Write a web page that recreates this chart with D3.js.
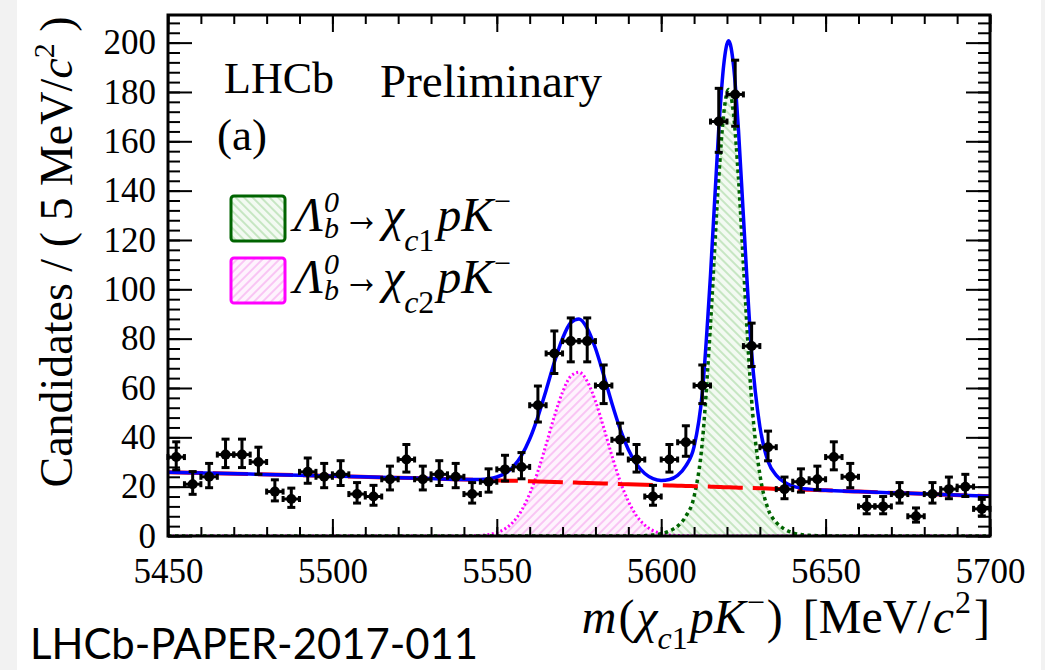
<!DOCTYPE html>
<html>
<head>
<meta charset="utf-8">
<script src="https://cdn.jsdelivr.net/npm/d3@7"></script>
<style>
  body { margin: 0; background: #fff; }
  svg { display: block; }
</style>
</head>
<body>
<svg id="chart" width="1045" height="670"></svg>
<script>
// Λb0 → χc pK− candidates per 5 MeV/c² bin
const massCentres = [
  5452.5, 5457.5, 5462.5, 5467.5, 5472.5, 5477.5, 5482.5, 5487.5, 5492.5, 5497.5,
  5502.5, 5507.5, 5512.5, 5517.5, 5522.5, 5527.5, 5532.5, 5537.5, 5542.5, 5547.5,
  5552.5, 5557.5, 5562.5, 5567.5, 5572.5, 5577.5, 5582.5, 5587.5, 5592.5, 5597.5,
  5602.5, 5607.5, 5612.5, 5617.5, 5622.5, 5627.5, 5632.5, 5637.5, 5642.5, 5647.5,
  5652.5, 5657.5, 5662.5, 5667.5, 5672.5, 5677.5, 5682.5, 5687.5, 5692.5, 5697.5
];
const candidates = [
  32, 21, 24, 33, 33, 30, 18, 15, 26, 24,
  25, 17, 16, 23, 31, 23, 25, 24, 17, 22,
  27, 28, 53, 74, 79, 79, 61, 39, 31, 16,
  31, 38, 61, 168, 179, 77, 36, 19, 22, 23,
  32, 24, 12, 12, 17, 8, 17, 19, 20, 11
];

// Fit components sampled along the mass axis
const fitMass = [
  5450, 5475, 5500, 5520, 5530, 5540, 5542.5, 5545, 5547.5, 5550,
  5552.5, 5555, 5557.5, 5560, 5562.5, 5565, 5567.5, 5570, 5572.5, 5575,
  5577.5, 5580, 5582.5, 5585, 5587.5, 5590, 5592.5, 5595, 5597.5, 5600,
  5602.5, 5605, 5607.5, 5610, 5612.5, 5615, 5617.5, 5619, 5620.5, 5622,
  5623.5, 5625, 5627.5, 5630, 5632.5, 5635, 5637.5, 5640, 5642.5, 5645,
  5647.5, 5650, 5660, 5675, 5700
];
const fitBackground = [
  25.8, 25.1, 24.3, 23.6, 23.3, 22.9, 22.8, 22.7, 22.6, 22.5,
  22.4, 22.4, 22.3, 22.2, 22.1, 22.0, 21.9, 21.8, 21.7, 21.6,
  21.5, 21.4, 21.3, 21.2, 21.1, 21.0, 20.9, 20.8, 20.7, 20.6,
  20.5, 20.4, 20.3, 20.2, 20.1, 20.0, 19.9, 19.8, 19.75, 19.7,
  19.6, 19.55, 19.45, 19.35, 19.25, 19.1, 19.0, 18.9, 18.8, 18.7,
  18.6, 18.5, 18.0, 17.3, 16.1
];
const fitChic1 = [
  0, 0, 0, 0, 0, 0, 0, 0, 0, 0,
  0, 0, 0, 0, 0, 0, 0, 0, 0, 0,
  0, 0, 0, 0, 0, 0, 0, 0.15, 0.4, 0.9,
  2, 4, 8, 16, 38, 86, 145, 171, 181, 171,
  145, 110, 55, 25, 11, 5.5, 2.8, 1.3, 0.6, 0.3,
  0.1, 0, 0, 0, 0
];
const fitChic2 = [
  0, 0, 0, 0, 0, 0, 0.1, 0.24, 0.6, 1.4,
  2.9, 5.7, 10.3, 17.1, 26.2, 37.1, 48.5, 58.3, 64.8, 66.4,
  62.7, 54.7, 44.0, 32.6, 22.3, 14.1, 8.2, 4.4, 2.2, 1.0,
  0.4, 0.2, 0.1, 0, 0, 0, 0, 0, 0, 0,
  0, 0, 0, 0, 0, 0, 0, 0, 0, 0,
  0, 0, 0, 0, 0
];

const xMajorTicks = [5450, 5500, 5550, 5600, 5650, 5700];
const yMajorTicks = [0, 20, 40, 60, 80, 100, 120, 140, 160, 180, 200];
const binWidth = 5;

const W = 1045, H = 670;
const P = { left: 168, right: 990, top: 15, bottom: 536 };
const SERIF = "'Liberation Serif', 'Times New Roman', serif";

const svg = d3.select('#chart');
svg.append('rect').attr('width', W).attr('height', H).attr('fill', '#fff');
svg.append('rect').attr('x', 0).attr('y', 0).attr('width', 17).attr('height', H).attr('fill', '#f2f2f2');
svg.append('rect').attr('x', 1041).attr('y', 0).attr('width', 4).attr('height', H).attr('fill', '#f2f2f2');

const x = d3.scaleLinear().domain([5450, 5700]).range([P.left, P.right]);
const y = d3.scaleLinear().domain([0, 211.2]).range([P.bottom, P.top]);

const defs = svg.append('defs');
function hatch(id, angle, bg, col) {
  const p = defs.append('pattern').attr('id', id)
    .attr('patternUnits', 'userSpaceOnUse').attr('width', 6).attr('height', 6)
    .attr('patternTransform', `rotate(${angle})`);
  p.append('rect').attr('width', 6).attr('height', 6).attr('fill', bg);
  p.append('line').attr('x1', 3).attr('y1', 0).attr('x2', 3).attr('y2', 6)
    .attr('stroke', col).attr('stroke-width', 1.2);
}
hatch('hatchGreen', -45, '#f3faf2', '#a9d9a3');
hatch('hatchMagenta', 45, '#fef3fd', '#f6a6ef');
defs.append('clipPath').attr('id', 'plotClip').append('rect')
  .attr('x', P.left).attr('y', P.top).attr('width', P.right - P.left).attr('height', P.bottom - P.top);

const fit = fitMass.map((m, i) => ({
  m, bkg: fitBackground[i], c1: fitChic1[i], c2: fitChic2[i],
  total: fitBackground[i] + fitChic1[i] + fitChic2[i]
}));

const plot = svg.append('g').attr('clip-path', 'url(#plotClip)');
const curve = d3.curveMonotoneX;
const areaOf = key => d3.area().curve(curve).x(d => x(d.m)).y0(y(0)).y1(d => y(d[key]));
const lineOf = key => d3.line().curve(curve).x(d => x(d.m)).y(d => y(d[key]));

plot.append('path').datum(fit).attr('d', areaOf('c2')).attr('fill', 'url(#hatchMagenta)');
plot.append('path').datum(fit).attr('d', areaOf('c1')).attr('fill', 'url(#hatchGreen)');
plot.append('path').datum(fit).attr('d', lineOf('c2')).attr('fill', 'none')
  .attr('stroke', '#ff00ff').attr('stroke-width', 3).attr('stroke-dasharray', '2,2.5');
plot.append('path').datum(fit).attr('d', lineOf('c1')).attr('fill', 'none')
  .attr('stroke', '#006400').attr('stroke-width', 3.5).attr('stroke-dasharray', '3.5,3.5');
plot.append('path').datum(fit).attr('d', lineOf('bkg')).attr('fill', 'none')
  .attr('stroke', '#ff0000').attr('stroke-width', 4).attr('stroke-dasharray', '35,10');
plot.append('path').datum(fit).attr('d', lineOf('total')).attr('fill', 'none')
  .attr('stroke', '#0000ff').attr('stroke-width', 3.5);

// data points with Poisson-like error bars
const pts = massCentres.map((m, i) => {
  const n = candidates[i], s = Math.sqrt(n + 0.25);
  return { m, n, lo: n - (s - 0.5), hi: n + (s + 0.5) };
});
const dg = svg.append('g').attr('stroke', '#000').attr('stroke-width', 3);
const pg = dg.selectAll('g').data(pts).join('g');
pg.append('line').attr('x1', d => x(d.m)).attr('x2', d => x(d.m))
  .attr('y1', d => y(d.lo)).attr('y2', d => y(d.hi));
pg.append('line').attr('x1', d => x(d.m) - 4).attr('x2', d => x(d.m) + 4)
  .attr('y1', d => y(d.hi)).attr('y2', d => y(d.hi));
pg.append('line').attr('x1', d => x(d.m) - 4).attr('x2', d => x(d.m) + 4)
  .attr('y1', d => y(d.lo)).attr('y2', d => y(d.lo));
pg.append('line').attr('x1', d => x(d.m - binWidth / 2)).attr('x2', d => x(d.m + binWidth / 2))
  .attr('y1', d => y(d.n)).attr('y2', d => y(d.n));
pg.append('line').attr('x1', d => x(d.m - binWidth / 2)).attr('x2', d => x(d.m - binWidth / 2))
  .attr('y1', d => y(d.n) - 3).attr('y2', d => y(d.n) + 3);
pg.append('line').attr('x1', d => x(d.m + binWidth / 2)).attr('x2', d => x(d.m + binWidth / 2))
  .attr('y1', d => y(d.n) - 3).attr('y2', d => y(d.n) + 3);
pg.append('circle').attr('cx', d => x(d.m)).attr('cy', d => y(d.n)).attr('r', 5)
  .attr('fill', '#000').attr('stroke', 'none');

// axes: ticks point into the frame
function styleAxis(g) {
  g.select('.domain').remove();
  g.selectAll('.tick line').attr('stroke', '#000').attr('stroke-width', 2);
  g.selectAll('.tick text').attr('fill', '#000').attr('font-family', SERIF).attr('font-size', 35);
}
const xMinor = d3.range(5450, 5701, 10);
const yMinor = d3.range(0, 212, 4);
svg.append('g').attr('transform', `translate(0,${P.bottom})`)
  .call(d3.axisBottom(x).tickValues(xMinor).tickSize(-9).tickFormat('')).call(styleAxis);
svg.append('g').attr('transform', `translate(0,${P.bottom})`)
  .call(d3.axisBottom(x).tickValues(xMajorTicks).tickSize(-17).tickPadding(22).tickFormat(d3.format('d')))
  .call(styleAxis);
svg.append('g').attr('transform', `translate(0,${P.top})`)
  .call(d3.axisTop(x).tickValues(xMinor).tickSize(-9).tickFormat('')).call(styleAxis);
svg.append('g').attr('transform', `translate(0,${P.top})`)
  .call(d3.axisTop(x).tickValues(xMajorTicks).tickSize(-17).tickFormat('')).call(styleAxis);
svg.append('g').attr('transform', `translate(${P.left},0)`)
  .call(d3.axisLeft(y).tickValues(yMinor).tickSize(-12).tickFormat('')).call(styleAxis);
svg.append('g').attr('transform', `translate(${P.left},0)`)
  .call(d3.axisLeft(y).tickValues(yMajorTicks).tickSize(-24).tickPadding(12).tickFormat(d3.format('d')))
  .call(styleAxis);
svg.append('g').attr('transform', `translate(${P.right},0)`)
  .call(d3.axisRight(y).tickValues(yMinor).tickSize(-12).tickFormat('')).call(styleAxis);
svg.append('g').attr('transform', `translate(${P.right},0)`)
  .call(d3.axisRight(y).tickValues(yMajorTicks).tickSize(-24).tickFormat('')).call(styleAxis);

svg.append('rect').attr('x', P.left).attr('y', P.top)
  .attr('width', P.right - P.left).attr('height', P.bottom - P.top)
  .attr('fill', 'none').attr('stroke', '#000').attr('stroke-width', 3);

// rich text laid out piece by piece; a piece may hold [string, italic] runs
function flowText(parent, x0, y0, parts, anchor, base) {
  const g = parent.append('g');
  let cx = 0;
  parts.forEach(p => {
    cx += p.dx || 0;
    const t = g.append('text').attr('x', cx).attr('y', p.dy || 0)
      .attr('font-family', SERIF).attr('font-size', p.size || base).attr('fill', '#000')
      .attr('xml:space', 'preserve');
    const runs = Array.isArray(p.t) ? p.t : [[p.t, !!p.italic]];
    runs.forEach(([s, it]) => t.append('tspan').attr('font-style', it ? 'italic' : 'normal').text(s));
    if (p.len) t.attr('textLength', p.len).attr('lengthAdjust', 'spacingAndGlyphs');
    if (!p.stack) cx += p.len || t.node().getComputedTextLength();
  });
  const shift = anchor === 'end' ? -cx : anchor === 'middle' ? -cx / 2 : 0;
  g.attr('transform', `translate(${x0 + shift},${y0})`);
  return g;
}

// y-axis title
const yTitle = svg.append('g').attr('transform', 'translate(72,252) rotate(-90)');
flowText(yTitle, 0, 0, [
  { t: 'Candidates / ( 5 MeV/' },
  { t: 'c', italic: true },
  { t: '2', size: 30, dy: -18 },
  { t: ' )' }
], 'middle', 46);

// x-axis title
flowText(svg, 990, 633, [
  { t: 'm', italic: true },
  { t: '(', dx: 2 },
  { t: 'χ', italic: true, dx: 2 },
  { t: [['c', true], ['1', false]], size: 32, dy: 16, dx: 0 },
  { t: 'pK', italic: true, dx: 2 },
  { t: '−', size: 32, dy: -20, dx: 1 },
  { t: ')', dx: 2 },
  { t: '[MeV/', dx: 20 },
  { t: 'c', italic: true, dx: 2 },
  { t: '2', size: 32, dy: -20, dx: 1 },
  { t: ']', dx: 3 }
], 'end', 48);

// labels inside the frame
svg.append('text').attr('x', 224).attr('y', 93).attr('font-family', SERIF)
  .attr('font-size', 44).text('LHCb');
svg.append('text').attr('x', 217).attr('y', 150).attr('font-family', SERIF)
  .attr('font-size', 45).text('(a)');
svg.append('text').attr('x', 380).attr('y', 97).attr('font-family', SERIF)
  .attr('font-size', 47).text('Preliminary');

// legend
const legendRows = [
  { fill: 'url(#hatchGreen)', stroke: '#006400', sub: '1' },
  { fill: 'url(#hatchMagenta)', stroke: '#ff00ff', sub: '2' }
];
legendRows.forEach((r, i) => {
  const top = 196 + i * 62;
  svg.append('rect').attr('x', 231).attr('y', top).attr('width', 54).attr('height', 45)
    .attr('rx', 3).attr('fill', r.fill).attr('stroke', r.stroke).attr('stroke-width', 3);
  flowText(svg, 294, top + 35, [
    { t: 'Λ', italic: true },
    { t: '0', italic: true, size: 30, dy: -19, dx: 1, stack: true },
    { t: 'b', italic: true, size: 30, dy: 7 },
    { t: '→', dx: 4, len: 37 },
    { t: 'χ', italic: true, dx: 3 },
    { t: [['c', true], [r.sub, false]], size: 32, dy: 20, dx: 0 },
    { t: 'pK', italic: true, dx: 3 },
    { t: '−', size: 30, dy: -20, dx: 1 }
  ], 'start', 48);
});

// report reference
svg.append('text').attr('x', 30).attr('y', 659).attr('font-family', "Lato, 'Open Sans', sans-serif")
  .attr('font-size', 42).attr('textLength', 448).attr('lengthAdjust', 'spacingAndGlyphs')
  .text('LHCb-PAPER-2017-011');
</script>
</body>
</html>
